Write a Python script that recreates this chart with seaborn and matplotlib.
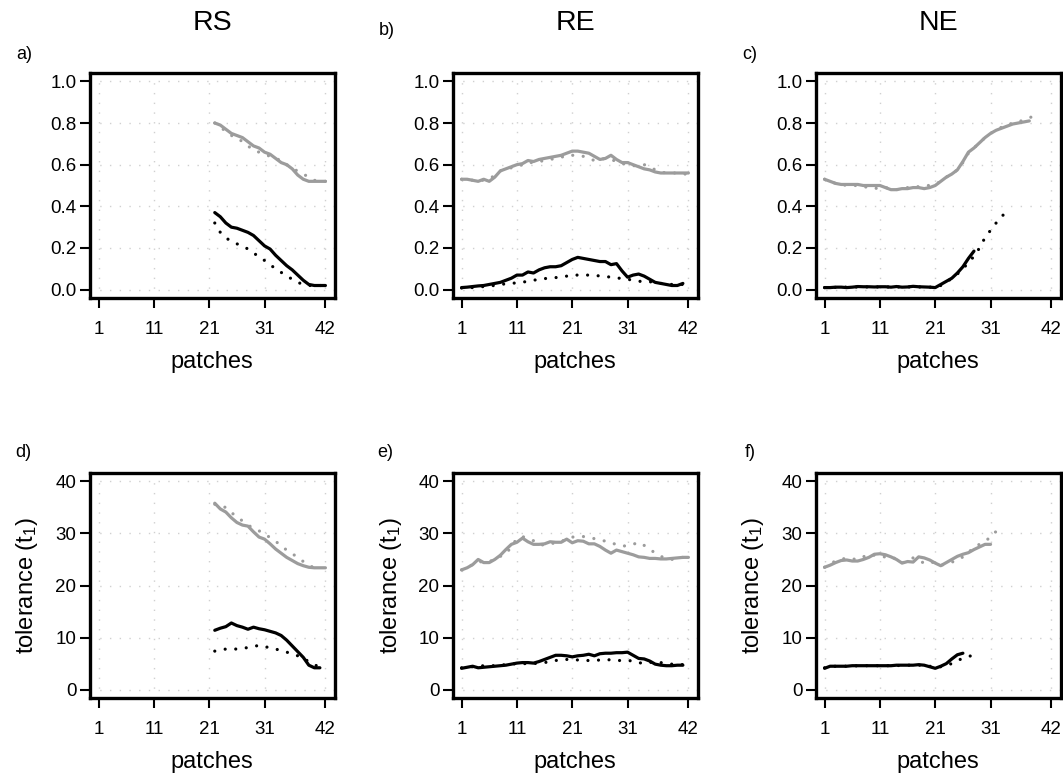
import numpy as np
import matplotlib
matplotlib.use('Agg')
import matplotlib.pyplot as plt
import seaborn as sns

# x axis: patch number
patch_ticks = [1, 11, 21, 31, 42]
prop_ticks = [0.0, 0.2, 0.4, 0.6, 0.8, 1.0]
tol_ticks = [0, 10, 20, 30, 40]
titles = ['RS', 'RE', 'NE']
panel_tags = ['a)', 'b)', 'c)', 'd)', 'e)', 'f)']

# ---- a) RS, proportion (patches 22..42)
a_start = 22
a_grey_line = [0.80, 0.79, 0.77, 0.75, 0.74, 0.73, 0.71, 0.69, 0.68, 0.66, 0.65,
               0.63, 0.61, 0.60, 0.58, 0.55, 0.53, 0.52, 0.52, 0.52, 0.52]
a_grey_dots = [0.80, 0.78, 0.76, 0.74, 0.73, 0.71, 0.69, 0.67, 0.66, 0.65, 0.64,
               0.63, 0.62, 0.60, 0.58, 0.57, 0.555, 0.54, 0.525, 0.52, 0.52]
a_black_line = [0.37, 0.35, 0.32, 0.30, 0.295, 0.285, 0.275, 0.26, 0.235, 0.21, 0.195,
                0.165, 0.14, 0.115, 0.095, 0.07, 0.045, 0.025, 0.02, 0.02, 0.02]
a_black_dots = [0.32, 0.275, 0.25, 0.23, 0.22, 0.21, 0.195, 0.175, 0.16, 0.14, 0.12,
                0.10, 0.083, 0.066, 0.05, 0.035, 0.025, 0.02, 0.02, 0.02, 0.02]

# ---- b) RE, proportion (patches 1..)
b_grey_line = [0.53, 0.53, 0.525, 0.52, 0.53, 0.52, 0.54, 0.57, 0.58, 0.59, 0.60, 0.605,
               0.62, 0.615, 0.625, 0.63, 0.635, 0.64, 0.645, 0.655, 0.665, 0.665, 0.66,
               0.655, 0.64, 0.625, 0.63, 0.645, 0.625, 0.61, 0.61, 0.60, 0.59, 0.58,
               0.575, 0.565, 0.56, 0.56, 0.56, 0.56, 0.56, 0.56]
b_grey_dots = [0.53, 0.53, 0.525, 0.525, 0.525, 0.53, 0.55, 0.57, 0.58, 0.585, 0.59, 0.60,
               0.61, 0.61, 0.615, 0.62, 0.625, 0.63, 0.635, 0.645, 0.645, 0.645, 0.64,
               0.63, 0.62, 0.625, 0.63, 0.625, 0.615, 0.605, 0.60, 0.595, 0.595, 0.60,
               0.59, 0.575, 0.565, 0.56, 0.56, 0.56, 0.555, 0.555]
b_black_line = [0.01, 0.012, 0.015, 0.018, 0.02, 0.025, 0.03, 0.035, 0.045, 0.055, 0.07,
                0.07, 0.085, 0.08, 0.095, 0.105, 0.11, 0.11, 0.115, 0.13, 0.145, 0.155,
                0.15, 0.145, 0.14, 0.135, 0.135, 0.12, 0.125, 0.09, 0.06, 0.07, 0.075,
                0.065, 0.05, 0.035, 0.03, 0.025, 0.02, 0.02, 0.03]
b_black_dots = [0.008, 0.009, 0.01, 0.012, 0.015, 0.018, 0.02, 0.025, 0.028, 0.03, 0.033,
                0.036, 0.04, 0.045, 0.05, 0.053, 0.056, 0.058, 0.06, 0.065, 0.07, 0.07,
                0.07, 0.07, 0.068, 0.066, 0.063, 0.06, 0.057, 0.053, 0.05, 0.045, 0.04,
                0.04, 0.038, 0.035, 0.03, 0.028, 0.025, 0.025, 0.025]

# ---- c) NE, proportion (patches 1..)
c_grey_line = [0.53, 0.52, 0.51, 0.505, 0.505, 0.505, 0.505, 0.50, 0.50, 0.50, 0.50, 0.49,
               0.48, 0.48, 0.485, 0.485, 0.49, 0.49, 0.485, 0.49, 0.50, 0.52, 0.54, 0.555,
               0.575, 0.615, 0.66, 0.68, 0.705, 0.73, 0.75, 0.765, 0.775, 0.785, 0.795,
               0.80, 0.805, 0.81]
c_grey_dots = [0.53, 0.52, 0.51, 0.505, 0.50, 0.50, 0.50, 0.495, 0.49, 0.485, 0.49, 0.49,
               0.485, 0.48, 0.485, 0.49, 0.49, 0.495, 0.50, 0.50, 0.505, 0.52, 0.54, 0.555,
               0.575, 0.61, 0.655, 0.68, 0.705, 0.73, 0.75, 0.765, 0.78, 0.79, 0.80,
               0.805, 0.815, 0.825, 0.835, 0.845]
c_black_line = [0.01, 0.01, 0.012, 0.012, 0.01, 0.012, 0.015, 0.014, 0.014, 0.013, 0.014,
                0.014, 0.012, 0.015, 0.012, 0.013, 0.016, 0.014, 0.013, 0.012, 0.01, 0.025,
                0.04, 0.055, 0.08, 0.11, 0.15, 0.185]
c_black_dots = [0.01, 0.01, 0.011, 0.012, 0.012, 0.012, 0.013, 0.013, 0.013, 0.013, 0.013,
                0.013, 0.013, 0.013, 0.013, 0.013, 0.013, 0.013, 0.012, 0.012, 0.012, 0.02,
                0.035, 0.055, 0.075, 0.10, 0.13, 0.16, 0.20, 0.25, 0.285, 0.32, 0.35, 0.38]

# ---- d) RS, tolerance (patches 22..)
d_start = 22
d_grey_line = [35.8, 34.7, 34.1, 33.0, 32.1, 31.6, 31.4, 30.3, 29.3, 28.9, 28.0, 27.0,
               26.2, 25.4, 24.8, 24.2, 23.8, 23.5, 23.4, 23.4, 23.4]
d_grey_dots = [35.6, 35.2, 35.0, 34.0, 33.2, 32.4, 31.6, 31.0, 30.5, 29.9, 29.2, 28.5,
               27.6, 26.8, 26.1, 25.4, 24.6, 24.0, 23.3, 23.3]
d_black_line = [11.4, 11.8, 12.1, 12.8, 12.3, 12.0, 11.6, 12.0, 11.7, 11.5, 11.2, 10.9,
                10.4, 9.5, 8.4, 7.3, 6.2, 4.7, 4.2, 4.2]
d_black_dots = [7.4, 7.6, 7.8, 7.8, 7.8, 7.9, 8.1, 8.3, 8.5, 8.3, 8.0, 7.8, 7.5, 7.2,
                6.9, 6.5, 6.0, 5.4, 4.8, 4.3]

# ---- e) RE, tolerance (patches 1..)
e_grey_line = [23.0, 23.4, 24.0, 25.0, 24.4, 24.4, 25.0, 25.8, 26.9, 27.9, 28.3, 29.1,
               28.4, 27.9, 27.9, 28.0, 28.4, 28.3, 28.3, 28.9, 28.2, 28.6, 28.5, 28.0,
               28.0, 27.5, 26.8, 26.2, 26.8, 26.5, 26.2, 25.9, 25.5, 25.4, 25.2, 25.2,
               25.1, 25.1, 25.2, 25.3, 25.4, 25.4]
e_grey_dots = [23.0, 23.5, 24.0, 24.6, 24.5, 24.6, 25.0, 25.6, 26.0, 27.5, 29.0, 29.4,
               29.0, 28.6, 27.8, 27.8, 28.0, 28.2, 28.4, 29.0, 29.3, 29.3, 29.4, 29.2,
               29.0, 28.8, 28.5, 28.3, 27.8, 27.6, 27.6, 27.9, 28.3, 27.7, 27.0, 26.2,
               25.6, 25.2, 25.0, 25.2, 25.4, 25.5]
e_black_line = [4.1, 4.3, 4.5, 4.2, 4.3, 4.4, 4.5, 4.6, 4.7, 4.9, 5.1, 5.2, 5.2, 5.1,
                5.4, 5.8, 6.2, 6.6, 6.6, 6.5, 6.3, 6.5, 6.6, 6.8, 6.5, 6.9, 7.0, 7.0,
                7.1, 7.1, 7.2, 6.6, 6.0, 5.9, 5.5, 4.9, 4.7, 4.6, 4.6, 4.7, 4.7]
e_black_dots = [4.2, 4.3, 4.4, 4.5, 4.6, 4.6, 4.6, 4.7, 4.8, 4.9, 5.0, 5.0, 5.0, 5.0,
                5.1, 5.2, 5.4, 5.6, 5.7, 5.8, 5.8, 5.7, 5.6, 5.6, 5.6, 5.7, 5.8, 5.7,
                5.6, 5.6, 5.6, 5.5, 5.2, 5.0, 5.2, 5.4, 5.2, 5.0, 4.9, 4.9, 4.8]

# ---- f) NE, tolerance (patches 1..)
f_grey_line = [23.5, 23.9, 24.4, 24.8, 24.9, 24.7, 24.7, 25.0, 25.4, 26.0, 26.1, 25.9,
               25.5, 25.0, 24.3, 24.6, 24.5, 25.5, 25.3, 24.9, 24.3, 23.8, 24.4, 25.0,
               25.6, 26.0, 26.3, 26.9, 27.4, 27.9, 27.9]
f_grey_dots = [23.5, 24.2, 24.7, 25.0, 25.3, 25.1, 25.0, 25.5, 26.0, 25.8, 25.5, 25.5,
               25.6, 25.0, 24.3, 24.8, 25.3, 24.8, 24.3, 24.6, 24.3, 23.9, 24.1, 24.5,
               24.8, 25.5, 26.3, 27.4, 27.9, 28.6, 29.2, 30.4]
f_black_line = [4.1, 4.5, 4.5, 4.5, 4.5, 4.6, 4.6, 4.6, 4.6, 4.6, 4.6, 4.6, 4.6, 4.7,
                4.7, 4.7, 4.7, 4.8, 4.7, 4.4, 4.1, 4.5, 5.0, 5.9, 6.7, 7.0]
f_black_dots = [4.2, 4.4, 4.5, 4.5, 4.5, 4.5, 4.6, 4.6, 4.6, 4.6, 4.6, 4.6, 4.6, 4.6,
                4.7, 4.7, 4.7, 4.7, 4.7, 4.5, 4.3, 4.4, 4.7, 5.0, 5.6, 6.0, 6.3, 6.8, 7.3]

panels = [
    (a_start, [a_grey_line, a_grey_dots, a_black_line, a_black_dots]),
    (1, [b_grey_line, b_grey_dots, b_black_line, b_black_dots]),
    (1, [c_grey_line, c_grey_dots, c_black_line, c_black_dots]),
    (d_start, [d_grey_line, d_grey_dots, d_black_line, d_black_dots]),
    (1, [e_grey_line, e_grey_dots, e_black_line, e_black_dots]),
    (1, [f_grey_line, f_grey_dots, f_black_line, f_black_dots]),
]

sns.set_theme(style='white')
plt.rcParams['font.family'] = ['Liberation Sans', 'DejaVu Sans']
plt.rcParams['mathtext.default'] = 'regular'
plt.rcParams['text.color'] = 'black'
plt.rcParams['axes.labelcolor'] = 'black'
plt.rcParams['axes.titlecolor'] = 'black'

grey = '#9c9c9c'
dotted = (0, (0.01, 3.3))
styles = [(grey, '-'), (grey, dotted), ('black', '-'), ('black', dotted)]

W, H = 1063, 778
fig = plt.figure(figsize=(W / 100, H / 100), dpi=100)
lefts = [89.5, 452.5, 815.5]
tops = [73, 473]
aw, ah = 245, 225
tag_pos = [(16, 59), (379, 35), (742, 59), (15, 457), (377, 457), (745, 457)]

for i, (start, series) in enumerate(panels):
    row, col = divmod(i, 3)
    ax = fig.add_axes([lefts[col] / W, 1 - (tops[row] + ah) / H, aw / W, ah / H])
    for vals, (colr, ls) in zip(series, styles):
        x = np.arange(start, start + len(vals))
        sns.lineplot(x=x, y=vals, ax=ax, color=colr, linestyle=ls, linewidth=2.3,
                     dash_capstyle='round', estimator=None, sort=False)

    ax.set_xlim(-0.64, 43.64)
    ax.set_xticks(patch_ticks)
    ax.set_xticklabels([str(t) for t in patch_ticks])
    if row == 0:
        ax.set_ylim(-0.04, 1.04)
        ax.set_yticks(prop_ticks)
        ax.set_yticklabels([f'{t:.1f}' for t in prop_ticks])
        ax.set_title(titles[col], fontsize=20.5, pad=31)
    else:
        ax.set_ylim(-1.6, 41.6)
        ax.set_yticks(tol_ticks)
        ax.set_yticklabels([str(t) for t in tol_ticks])
        ax.set_ylabel('tolerance (t$_1$)', fontsize=17)
        ax.yaxis.set_label_coords(-49 / aw, 0.5)
    ax.set_xlabel('patches', fontsize=17, labelpad=9.5)

    ax.grid(True, color='#d0d0d0', linestyle=(0, (1, 6)), linewidth=1.0)
    ax.set_axisbelow(True)
    for sp in ax.spines.values():
        sp.set_visible(True)
        sp.set_color('black')
        sp.set_linewidth(2.4)
    ax.tick_params(direction='out', length=7, width=1.5, labelsize=13.5,
                   colors='black', bottom=True, left=True)
    ax.tick_params(axis='x', pad=9.5)
    ax.tick_params(axis='y', pad=2.5)

    tx, ty = tag_pos[i]
    fig.text(tx / W, 1 - ty / H, panel_tags[i], fontsize=13, va='baseline')

fig.savefig('out.png', dpi=100)
